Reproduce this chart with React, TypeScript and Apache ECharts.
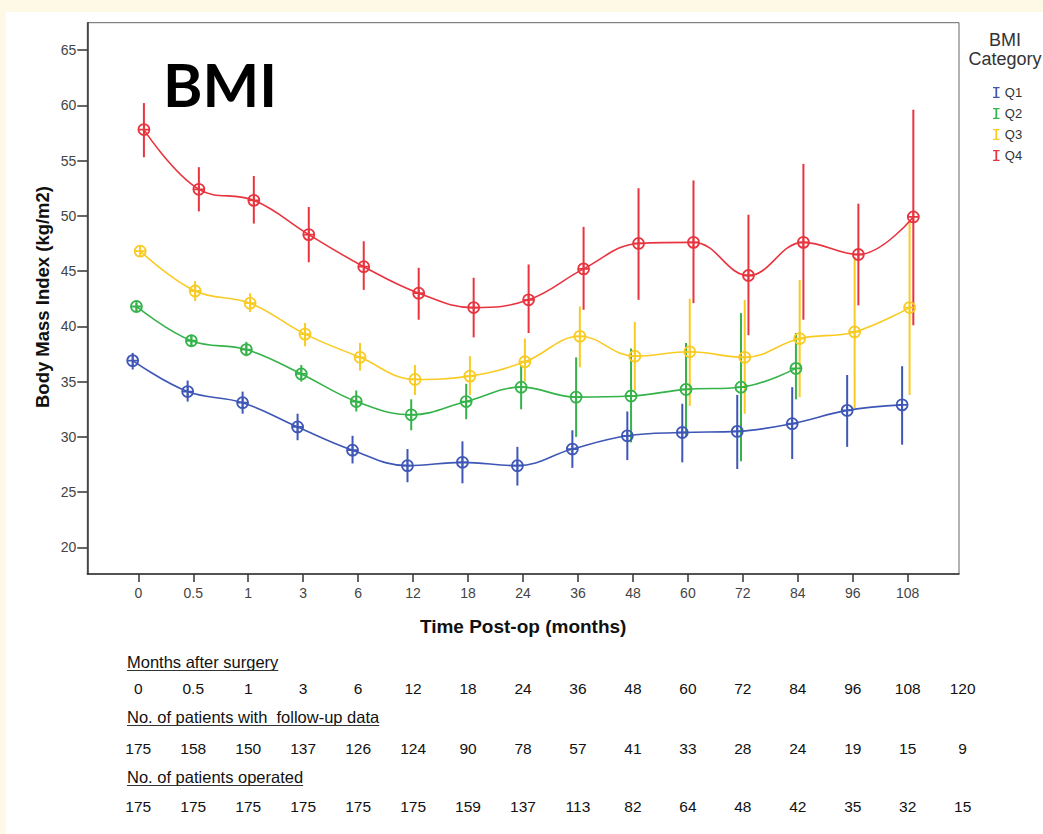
import React, { useEffect, useRef } from 'react';
import * as echarts from 'echarts';

// ---------- data ----------
const months = ['0', '0.5', '1', '3', '6', '12', '18', '24', '36', '48', '60', '72', '84', '96', '108'];
const yTicks = [20, 25, 30, 35, 40, 45, 50, 55, 60, 65];
const groups = ['Q1', 'Q2', 'Q3', 'Q4'];

const q1Mean = [36.9, 34.1, 33.1, 30.9, 28.8, 27.4, 27.7, 27.4, 28.9, 30.1, 30.4, 30.5, 31.2, 32.4, 32.9];
const q1Low = [36.1, 33.2, 32.1, 29.7, 27.6, 25.9, 25.8, 25.6, 27.2, 27.9, 27.7, 27.1, 28.0, 29.1, 29.3];
const q1High = [37.6, 35.1, 34.1, 32.1, 30.1, 28.9, 29.6, 29.1, 30.6, 32.3, 33.0, 33.8, 34.5, 35.6, 36.4];

const q2Mean = [41.8, 38.7, 37.9, 35.7, 33.2, 32.0, 33.2, 34.5, 33.6, 33.7, 34.3, 34.5, 36.2];
const q2Low = [41.4, 38.2, 37.3, 35.0, 32.3, 30.6, 31.6, 32.5, 30.0, 29.5, 30.1, 27.8, 33.4];
const q2High = [42.1, 39.2, 38.6, 36.5, 34.2, 33.4, 34.8, 36.5, 37.2, 38.0, 38.5, 41.2, 39.4];

const q3Mean = [46.8, 43.2, 42.1, 39.3, 37.2, 35.2, 35.5, 36.8, 39.1, 37.3, 37.7, 37.2, 38.9, 39.5, 41.7];
const q3Low = [46.3, 42.3, 41.3, 38.2, 36.0, 33.8, 33.8, 35.0, 36.3, 34.2, 32.8, 32.1, 33.6, 32.6, 33.8];
const q3High = [47.2, 44.1, 43.0, 40.3, 38.5, 36.5, 37.3, 38.9, 41.8, 40.4, 42.5, 42.4, 44.2, 46.3, 49.5];

const q4Mean = [57.8, 52.4, 51.4, 48.3, 45.4, 43.0, 41.7, 42.4, 45.2, 47.5, 47.6, 44.6, 47.6, 46.5, 49.9];
const q4Low = [55.3, 50.4, 49.3, 45.8, 43.3, 40.6, 39.0, 39.4, 41.5, 42.4, 42.1, 39.2, 40.6, 41.9, 40.1];
const q4High = [60.2, 54.4, 53.6, 50.8, 47.7, 45.3, 44.4, 45.6, 49.0, 52.5, 53.2, 50.1, 54.7, 51.1, 59.6];

const tableMonths = ['0', '0.5', '1', '3', '6', '12', '18', '24', '36', '48', '60', '72', '84', '96', '108', '120'];
const followUp = [175, 158, 150, 137, 126, 124, 90, 78, 57, 41, 33, 28, 24, 19, 15, 9];
const operated = [175, 175, 175, 175, 175, 175, 159, 137, 113, 82, 64, 48, 42, 35, 32, 15];

// ---------- styles ----------
const colors = ['#3E56B5', '#35B34A', '#F9CB22', '#E8343F'];
const FONT = '"Liberation Sans", Arial, sans-serif';
const markerPath = 'path://M0,-10A10,10 0 1,1 0,10A10,10 0 1,1 0,-10Z M-10,0L10,0 M0,-10L0,10';
const legendIcon = 'path://M0,0H6V1.2H3.8V8.8H6V10H0V8.8H2.2V1.2H0Z';

const means = [q1Mean, q2Mean, q3Mean, q4Mean];
const lows = [q1Low, q2Low, q3Low, q4Low];
const highs = [q1High, q2High, q3High, q4High];
const dodge = 0.068;

function buildOption() {
  const series: any[] = [];
  groups.forEach((g, k) => {
    const off = (k - 1.5) * dodge;
    const errData = means[k].map((_, i) => [i + off, lows[k][i], highs[k][i]]);
    series.push({
      name: g,
      type: 'custom',
      data: errData,
      encode: { x: 0, y: [1, 2] },
      z: 2,
      renderItem: (params: any, api: any) => {
        const x = api.value(0);
        const p1 = api.coord([x, api.value(1)]);
        const p2 = api.coord([x, api.value(2)]);
        return {
          type: 'line',
          shape: { x1: p1[0], y1: p1[1], x2: p2[0], y2: p2[1] },
          style: { stroke: colors[k], lineWidth: 2 },
        };
      },
    });
  });
  groups.forEach((g, k) => {
    const off = (k - 1.5) * dodge;
    series.push({
      name: g,
      type: 'line',
      data: means[k].map((v, i) => [i + off, v]),
      smooth: 0.4,
      symbol: markerPath,
      symbolSize: 11,
      showSymbol: true,
      z: 3,
      lineStyle: { color: colors[k], width: 1.6 },
      itemStyle: { color: 'rgba(255,255,255,0)', borderColor: colors[k], borderWidth: 1.8 },
      emphasis: { disabled: true },
    });
  });

  return {
    animation: false,
    backgroundColor: '#ffffff',
    textStyle: { fontFamily: FONT },
    grid: {
      left: 81.3,
      top: 10.7,
      width: 871.7,
      height: 551.3,
      show: true,
      borderColor: '#666',
      borderWidth: 1,
      containLabel: false,
    },
    legend: {
      orient: 'vertical',
      left: 982,
      top: 69,
      itemWidth: 7,
      itemHeight: 11,
      itemGap: 8,
      icon: legendIcon,
      selectedMode: false,
      textStyle: { fontSize: 13, color: '#333', fontFamily: FONT },
      data: groups.map((g, k) => ({ name: g, itemStyle: { color: colors[k], borderWidth: 0 } })),
    },
    xAxis: {
      type: 'value',
      min: -0.928,
      max: 14.933,
      name: 'Time Post-op (months)',
      nameLocation: 'middle',
      nameGap: 43,
      nameTextStyle: { fontSize: 19, fontWeight: 'bold', color: '#111', fontFamily: FONT },
      splitLine: { show: false },
      axisLine: { show: true, onZero: false, lineStyle: { color: '#333', width: 1.5 } },
      axisTick: {
        show: true,
        length: 8,
        customValues: months.map((_, i) => i),
        lineStyle: { color: '#333', width: 1.5 },
      },
      axisLabel: {
        customValues: months.map((_, i) => i),
        formatter: (v: number) => months[Math.round(v)] ?? '',
        fontSize: 14,
        color: '#444',
        margin: 12,
        fontFamily: FONT,
      },
    },
    yAxis: {
      type: 'value',
      min: 17.6,
      max: 67.47,
      splitLine: { show: false },
      axisLine: { show: true, onZero: false, lineStyle: { color: '#333', width: 1.5 } },
      axisTick: {
        show: true,
        length: 10,
        customValues: yTicks,
        lineStyle: { color: '#333', width: 1.5 },
      },
      axisLabel: {
        customValues: yTicks,
        fontSize: 14,
        color: '#444',
        margin: 11,
        fontFamily: FONT,
      },
    },
    series,
  };
}

export default function App() {
  const ref = useRef<HTMLDivElement>(null);
  useEffect(() => {
    const chart = echarts.init(ref.current!, null, { renderer: 'svg' });
    chart.setOption(buildOption());

    const colX = tableMonths.map((_, i) => chart.convertToPixel({ xAxisIndex: 0 }, i) as number);
    const ctx = document.createElement('canvas').getContext('2d')!;
    const headerFont = `16.5px ${FONT}`;
    ctx.font = headerFont;

    const graphics: any[] = [];
    graphics.push({
      type: 'text',
      x: 157,
      y: 71.5,
      style: { text: 'BMI', fontSize: 60, fontWeight: 'bold', fontFamily: 'Lato, "Liberation Sans", sans-serif', fill: '#000', align: 'left', verticalAlign: 'middle' },
    });
    graphics.push({
      type: 'text',
      x: 36,
      y: 285,
      rotation: Math.PI / 2,
      style: { text: 'Body Mass Index (kg/m2)', fontSize: 18.5, fontWeight: 'bold', fontFamily: FONT, fill: '#111', align: 'center', verticalAlign: 'middle' },
    });
    graphics.push({
      type: 'text',
      x: 999,
      y: 18,
      style: { text: 'BMI\nCategory', fontSize: 18, lineHeight: 19, fontFamily: FONT, fill: '#333', align: 'center', verticalAlign: 'top' },
    });

    const headers = [
      { text: 'Months after surgery', y: 650 },
      { text: 'No. of patients with  follow-up data', y: 705 },
      { text: 'No. of patients operated', y: 765 },
    ];
    const rows = [
      { values: tableMonths, y: 676 },
      { values: followUp.map(String), y: 736 },
      { values: operated.map(String), y: 794 },
    ];
    const hx = 121;
    headers.forEach((h) => {
      const w = ctx.measureText(h.text).width;
      graphics.push({
        type: 'text',
        x: hx,
        y: h.y,
        style: { text: h.text, font: headerFont, fill: '#111', align: 'left', verticalAlign: 'middle' },
      });
      graphics.push({
        type: 'line',
        shape: { x1: hx, y1: h.y + 8.5, x2: hx + w, y2: h.y + 8.5 },
        style: { stroke: '#333', lineWidth: 1 },
      });
    });
    rows.forEach((r) => {
      r.values.forEach((v, i) => {
        graphics.push({
          type: 'text',
          x: colX[i],
          y: r.y,
          style: { text: v, fontSize: 15.5, fontFamily: FONT, fill: '#111', align: 'center', verticalAlign: 'middle' },
        });
      });
    });

    chart.setOption({ graphic: graphics });
    return () => chart.dispose();
  }, []);

  return (
    <div style={{ position: 'fixed', left: 0, top: 0, width: 1043, height: 834, background: '#FEF8E6' }}>
      <div ref={ref} style={{ position: 'absolute', left: 6, top: 12, width: 1037, height: 822, background: '#fff' }} />
    </div>
  );
}
